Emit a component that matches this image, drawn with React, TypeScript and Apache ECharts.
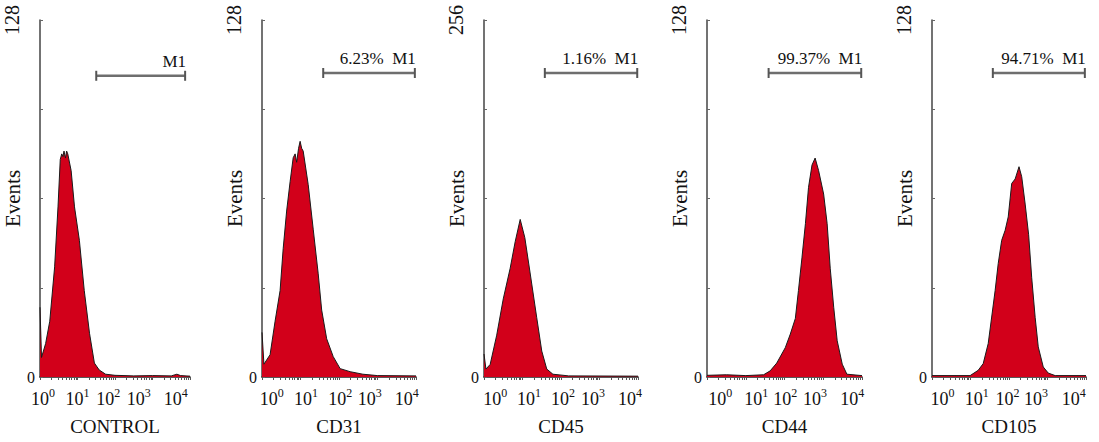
import React, { useEffect, useRef } from "react";
import * as echarts from "echarts";

// ---- data ----
const panelNames = ["CONTROL", "CD31", "CD45", "CD44", "CD105"];
const yMaxes = [128, 128, 256, 128, 128];
const exponents = ["0", "1", "2", "3", "4"];
// where each decade label sits along the axis (decade units), per panel
const labelAnchors = [
  [0.08, 1.0, 1.82, 2.63, 3.62],
  [0.25, 1.14, 2.03, 2.8, 3.76],
  [0.29, 1.17, 2.05, 2.83, 3.79],
  [0.34, 1.27, 2.02, 2.79, 3.75],
  [0.27, 1.16, 1.96, 2.7, 3.68],
];
const gateLabels = ["M1", "6.23%  M1", "1.16%  M1", "99.37%  M1", "94.71%  M1"];
const gateStart = [1.5, 1.59, 1.58, 1.59, 1.58];
const gateEnd = [3.87, 3.97, 3.98, 3.98, 3.97];
const gateLevel = [108, 109, 218, 109, 109];

const controlHist = [
  [0, 25], [0.04, 7], [0.15, 12], [0.26, 20], [0.39, 39.5], [0.48, 61], [0.54, 78],
  [0.58, 80], [0.61, 79], [0.64, 81], [0.68, 78.5], [0.71, 81], [0.74, 80], [0.83, 74],
  [0.92, 61], [1.05, 49], [1.18, 31], [1.32, 15.7], [1.45, 5], [1.58, 2.5], [1.75, 1],
  [2.0, 0.6], [2.5, 0.4], [3.0, 0.5], [3.5, 0.4], [3.65, 1], [3.75, 0.5], [4, 0.3],
];
const cd31Hist = [
  [0, 16], [0.05, 4.6], [0.21, 8], [0.34, 20], [0.47, 31], [0.55, 46], [0.64, 59.5],
  [0.73, 70], [0.81, 78.6], [0.86, 80], [0.9, 77], [0.95, 82], [0.99, 84.5], [1.03, 82],
  [1.07, 81], [1.2, 69], [1.33, 53], [1.46, 37], [1.55, 24], [1.68, 13.7], [1.85, 7.3],
  [2.03, 3], [2.29, 1.9], [2.62, 1], [3, 0.5], [4, 0.4],
];
const cd45Hist = [
  [0, 16.5], [0.05, 5.7], [0.16, 9], [0.33, 30], [0.5, 56], [0.68, 78], [0.81, 97],
  [0.94, 113], [1.06, 100], [1.19, 76], [1.37, 42.5], [1.5, 18.6], [1.63, 5.7],
  [1.79, 2], [2.2, 0.8], [4, 0.6],
];
const cd44Hist = [
  [0, 0.6], [0.5, 0.8], [1.0, 0.5], [1.46, 0.8], [1.63, 2.2], [1.8, 5], [2.02, 10.5],
  [2.15, 15.4], [2.28, 21], [2.36, 31], [2.45, 42.7], [2.54, 55], [2.62, 68], [2.71, 76],
  [2.79, 78.5], [2.88, 74], [3.01, 65.6], [3.1, 55], [3.18, 39], [3.27, 25], [3.36, 13],
  [3.49, 4.6], [3.61, 1], [4, 0.5],
];
const cd105Hist = [
  [0, 0.5], [0.99, 0.5], [1.2, 2.4], [1.33, 4.8], [1.46, 12], [1.55, 21.5], [1.64, 31],
  [1.72, 40.7], [1.81, 49], [1.9, 52.6], [1.98, 57.4], [2.07, 69.4], [2.16, 71],
  [2.26, 75.4], [2.33, 71.8], [2.42, 62], [2.51, 51], [2.59, 35.6], [2.68, 21.3],
  [2.76, 10.8], [2.89, 3.6], [3.02, 1.4], [3.2, 0.5], [4, 0.5],
];
const histograms = [controlHist, cd31Hist, cd45Hist, cd44Hist, cd105Hist];

// ---- layout ----
const gridLeft = [40, 262, 484, 707, 932];
const gridWidth = [150, 154, 154, 155, 154];
const gridTop = 20;
const gridHeight = 357;
const FONT = "'Liberation Serif', 'Times New Roman', serif";

export default function App() {
  const ref = useRef<HTMLDivElement>(null);
  useEffect(() => {
    if (!ref.current) return;
    const chart = echarts.init(ref.current, null, { renderer: "svg" });

    const minorTicks: number[] = [];
    for (let d = 0; d < 4; d++) {
      for (let k = 1; k < 10; k++) minorTicks.push(d + Math.log10(k));
    }
    minorTicks.push(4);

    const grids: any[] = [];
    const xAxes: any[] = [];
    const yAxes: any[] = [];
    const series: any[] = [];

    panelNames.forEach((name, i) => {
      const yMax = yMaxes[i];
      const anchors = labelAnchors[i];
      grids.push({ left: gridLeft[i], top: gridTop, width: gridWidth[i], height: gridHeight });
      xAxes.push({
        type: "value",
        gridIndex: i,
        min: 0,
        max: 4,
        name,
        nameLocation: "middle",
        nameGap: 40,
        nameTextStyle: { fontFamily: FONT, fontSize: 19, color: "#111" },
        axisLine: { show: true, onZero: false, lineStyle: { color: "#222", width: 1.5 } },
        axisTick: { show: true, customValues: minorTicks, length: 3, lineStyle: { color: "#555" } },
        splitLine: { show: false },
        axisLabel: {
          customValues: anchors,
          margin: 10,
          fontFamily: FONT,
          fontSize: 18,
          color: "#111",
          formatter: (v: number) => {
            let best = 0;
            anchors.forEach((a, j) => {
              if (Math.abs(a - v) < Math.abs(anchors[best] - v)) best = j;
            });
            return `{b|10}{s|${exponents[best]}}`;
          },
          rich: {
            b: { fontFamily: FONT, fontSize: 18, lineHeight: 21, color: "#111", verticalAlign: "bottom" },
            s: { fontFamily: FONT, fontSize: 12, lineHeight: 12, color: "#111", verticalAlign: "top" },
          },
        },
      });
      yAxes.push({
        type: "value",
        gridIndex: i,
        position: "left",
        min: 0,
        max: yMax,
        interval: yMax / 4,
        name: "Events",
        nameLocation: "middle",
        nameGap: 14,
        nameTextStyle: { fontFamily: FONT, fontSize: 21, color: "#111" },
        axisLine: { show: true, lineStyle: { color: "#444", width: 1.5 } },
        axisTick: { show: true, inside: true, length: 3, lineStyle: { color: "#666" } },
        splitLine: { show: false },
        axisLabel: {
          customValues: [0],
          margin: 5,
          fontFamily: FONT,
          fontSize: 16,
          color: "#111",
        },
      });
      yAxes.push({
        type: "value",
        gridIndex: i,
        position: "left",
        min: 0,
        max: yMax,
        interval: yMax / 4,
        axisLine: { show: false },
        axisTick: { show: false },
        splitLine: { show: false },
        axisLabel: {
          customValues: [yMax],
          rotate: 90,
          margin: 18,
          fontFamily: FONT,
          fontSize: 20,
          color: "#111",
        },
      });
      series.push({
        type: "line",
        xAxisIndex: i,
        yAxisIndex: 2 * i,
        data: histograms[i],
        symbol: "none",
        smooth: false,
        lineStyle: { color: "#1a1a1a", width: 1 },
        areaStyle: { color: "#d2001a", opacity: 1 },
        z: 2,
      });
      series.push({
        type: "line",
        xAxisIndex: i,
        yAxisIndex: 2 * i,
        data: [
          [gateStart[i], gateLevel[i]],
          {
            value: [gateEnd[i], gateLevel[i]],
            label: {
              show: true,
              position: "top",
              align: "right",
              distance: 1,
              offset: [1, 0],
              formatter: gateLabels[i],
              fontFamily: FONT,
              fontSize: 17,
              color: "#111",
            },
          },
        ],
        symbol: "rect",
        symbolSize: [2, 10],
        itemStyle: { color: "#555" },
        lineStyle: { color: "#6e6e6e", width: 2.5 },
        z: 3,
      });
    });

    chart.setOption({
      animation: false,
      backgroundColor: "#ffffff",
      grid: grids,
      xAxis: xAxes,
      yAxis: yAxes,
      series,
    });
    return () => chart.dispose();
  }, []);
  return (
    <div
      ref={ref}
      style={{ position: "absolute", left: 0, top: 0, width: 1099, height: 442 }}
    />
  );
}
